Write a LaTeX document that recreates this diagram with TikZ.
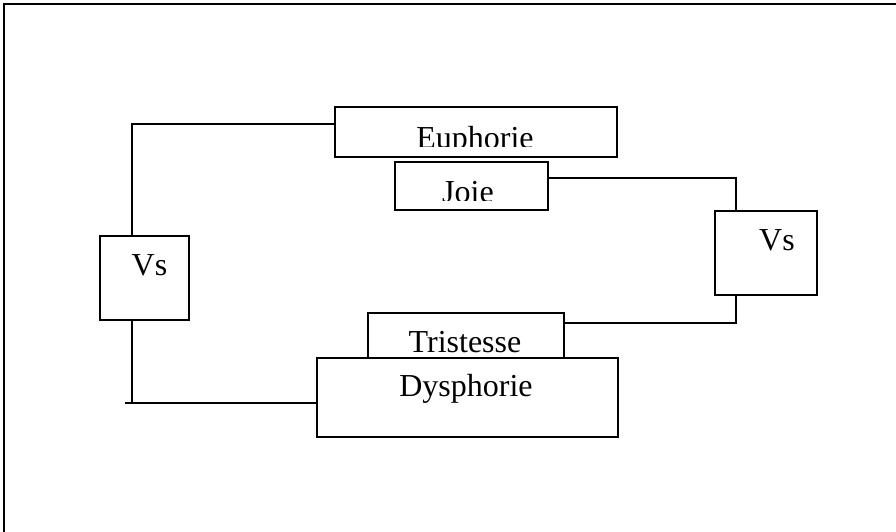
\documentclass[tikz,border=0pt]{standalone}
\usepackage{fontspec}
\setmainfont{Liberation Serif}
\tikzset{
  box/.style={draw, line width=1.8pt, fill=white, rectangle, inner sep=0pt, anchor=north west},
  lbl/.style={font=\fontsize{32}{38}\selectfont, inner sep=0pt, anchor=base},
  wire/.style={line width=1.8pt}
}
\begin{document}
\begin{tikzpicture}[x=1pt,y=-1pt]
\useasboundingbox (0,0) rectangle (896,532);
\draw[line width=2.2pt] (4,540) -- (4,4) -- (900,4);
% boxes
\node[box, minimum width=282pt, minimum height=50pt] (eu) at (334,106) {};
\begin{scope}\clip (334,106) rectangle (616,146.5);
\node[lbl] (teu) at (475,148) {Euphorie};
\end{scope}
\node[box, minimum width=153pt, minimum height=48pt] (jo) at (394,161) {};
\begin{scope}\clip (394,161) rectangle (547,200.5);
\node[lbl] (tjo) at (468,202) {Joie};
\end{scope}
\node[box, minimum width=89pt, minimum height=84pt] (vsl) at (99,235) {};
\node[lbl] (tvsl) at (149.5,275) {Vs};
\node[box, minimum width=102pt, minimum height=84pt] (vsr) at (714,210) {};
\node[lbl] (tvsr) at (777,250) {Vs};
\node[box, minimum width=196pt, minimum height=50pt] (tr) at (367,312) {};
\node[lbl] (ttr) at (465,352) {Tristesse};
\node[box, minimum width=301pt, minimum height=79pt] (dy) at (316,357) {};
\node[lbl] (tdy) at (466,396) {Dysphorie};
% connectors
\coordinate (lt) at (132,124);
\draw[wire] (eu.west |- lt) -- (lt) -- (lt |- vsl.north);
\coordinate (lb) at (132,403);
\coordinate (lbs) at (125,403);
\draw[wire] (lb |- vsl.south) -- (lb);
\draw[wire] (dy.west |- lb) -- (lbs);
\coordinate (rt) at (736,178);
\draw[wire] (jo.east |- rt) -- (rt) -- (rt |- vsr.north);
\coordinate (rb) at (736,323);
\draw[wire] (rb |- vsr.south) -- (rb) -- (tr.east |- rb);
\end{tikzpicture}
\end{document}
